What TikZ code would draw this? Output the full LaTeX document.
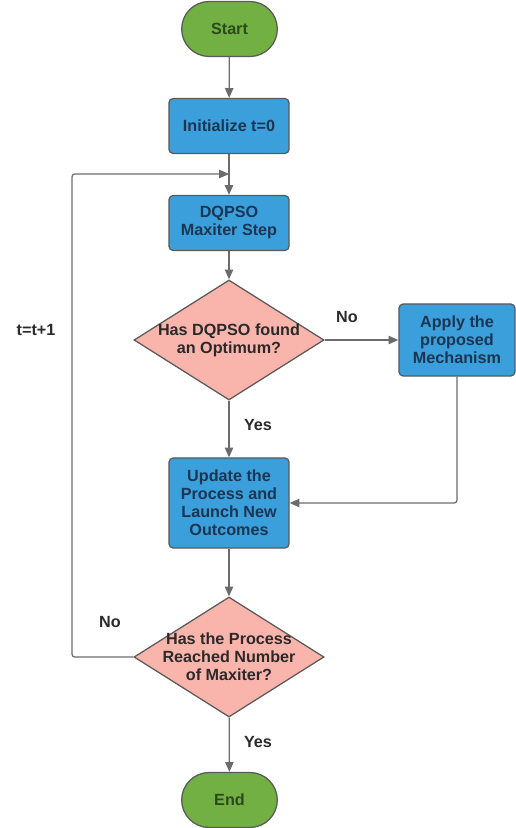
\documentclass[tikz,border=0pt]{standalone}
\usepackage{fontspec}
\setmainfont{Liberation Sans}
\usepackage{xcolor}
\usetikzlibrary{positioning, arrows.meta, shapes.geometric, shapes.misc, calc}
\definecolor{flowGreen}{HTML}{72B043}
\definecolor{flowGreenText}{HTML}{2B4A1C}
\definecolor{flowBlue}{HTML}{3A9FDB}
\definecolor{flowBlueText}{HTML}{1C3550}
\definecolor{flowPink}{HTML}{F9B5AB}
\definecolor{flowEdge}{HTML}{5A5A5A}
\definecolor{flowLine}{HTML}{6B6B6B}
\definecolor{flowText}{HTML}{2A2A2A}

\begin{document}
\begin{tikzpicture}[
  x=0.025cm, y=-0.025cm,
  every node/.style={font=\fontsize{11.5}{12.8}\selectfont\bfseries},
  terminal/.style={
    rounded rectangle, minimum width=2.625cm, minimum height=1.375cm,
    draw=flowEdge, line width=0.9pt, fill=flowGreen, text=flowGreenText
  },
  process/.style={
    rectangle, rounded corners=3pt, minimum width=3cm, minimum height=1.375cm,
    draw=flowEdge, line width=0.9pt, fill=flowBlue, text=flowBlueText,
    align=center, inner sep=2pt
  },
  decision/.style={
    diamond, aspect=1.58, inner sep=-10pt,
    minimum width=4.75cm, minimum height=3cm,
    draw=flowEdge, line width=0.9pt, fill=flowPink, text=flowText,
    align=center
  },
  flow/.style={flowLine, line width=0.9pt, -{Triangle[length=7pt, width=6pt]}},
  lbl/.style={text=flowText},
]
\useasboundingbox (0,0) rectangle (515,828);

% === MAIN COLUMN ===
\node[terminal] (start) at (229.5,29) {Start};
\node[process] (init) at (229,126) {Initialize t=0};
\node[process] (dqpso) at (229,223) {DQPSO\\Maxiter Step};
\node[decision] (dec1) at (229,340) {Has DQPSO found\\an Optimum?};
\node[process, minimum height=2.25cm] (update) at (229,503) {Update the\\Process and\\Launch New\\Outcomes};
\node[decision] (dec2) at (229,657) {Has the Process\\Reached Number\\of Maxiter?};
\node[terminal] (stop) at (229.5,800) {End};

% === SIDE BOX ===
\node[process, minimum width=2.9cm, minimum height=1.8cm] (apply) at (457,340) {Apply the\\proposed\\Mechanism};

% loop points
\coordinate (loopjoin) at (229,174);
\coordinate (loopbot) at (72,657);

% === CONNECTORS ===
\draw[flow] (start) -- (init);
\draw[flow] (init) -- (dqpso);
\draw[flow] (dqpso) -- (dec1);
\draw[flow] (dec1) -- (update);
\draw[flow] (dec1.east) -- (apply.west);
\draw[flow, rounded corners=2pt] (apply.south) |- (update.east);
\draw[flow] (update) -- (dec2);
\draw[flow] (dec2) -- (stop);
\draw[flow, rounded corners=2pt] (dec2.west) -- (loopbot) |- (loopjoin);

% === LABELS ===
\node[lbl] (no1) at (347,317) {No};
\node[lbl] (yes1) at (258,425) {Yes};
\node[lbl] (no2) at (110,622) {No};
\node[lbl] (yes2) at (258,742) {Yes};
\node[lbl] (incr) at (36,330) {t=t+1};

\end{tikzpicture}
\end{document}
